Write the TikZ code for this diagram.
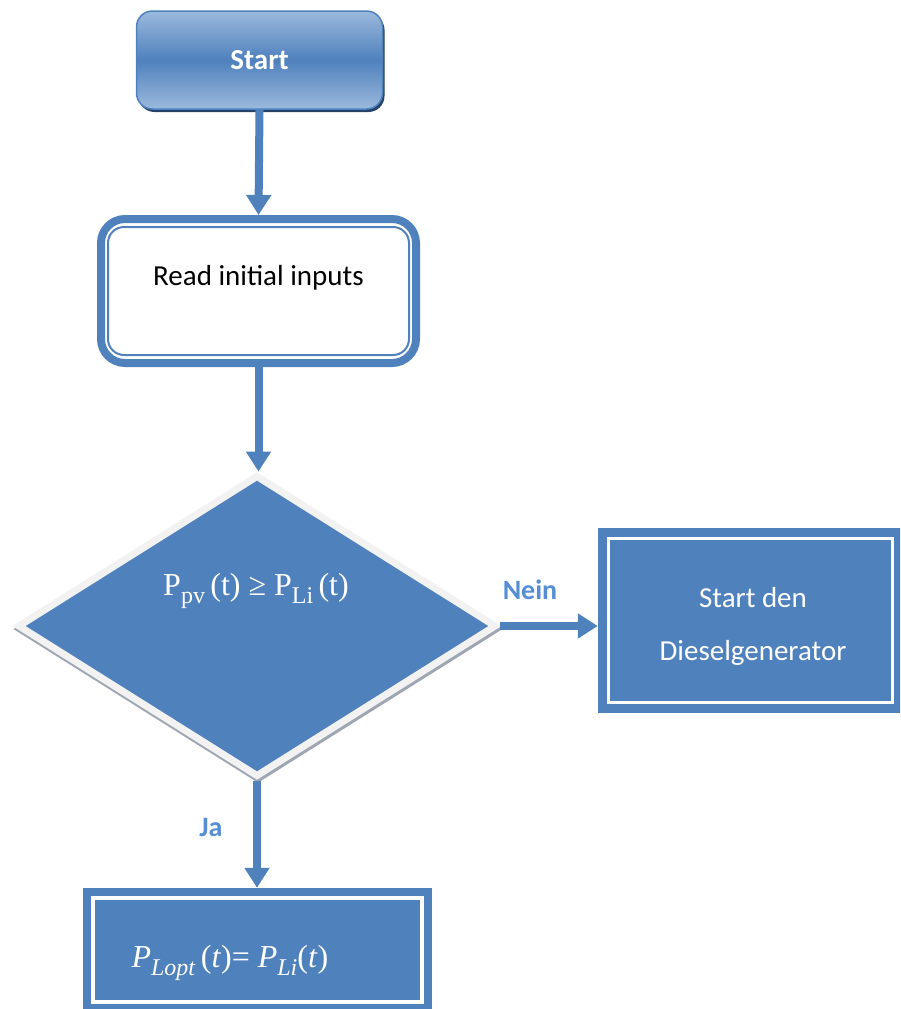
\documentclass[tikz,border=0pt]{standalone}
\usepackage{fontspec}
\setmainfont{Carlito}
\newfontfamily\mserif{Liberation Serif}
\usetikzlibrary{shapes.geometric,arrows.meta}
\definecolor{fcblue}{RGB}{79,129,189}
\definecolor{fclight}{RGB}{155,185,221}
\definecolor{fcdark}{RGB}{38,66,104}
\definecolor{fclabel}{RGB}{85,142,213}
\definecolor{fcgray}{RGB}{242,242,242}
\definecolor{fcshadow}{RGB}{158,166,178}
\newcommand\lowsub[1]{\raisebox{-0.25em}{\fontsize{24}{24}\selectfont #1}}
\begin{document}
\begin{tikzpicture}[x=1pt,y=-1pt,
  conn/.style={draw=fcblue, line width=8pt, -{Triangle[width=24pt,length=20pt]}},
  lbl/.style={text=fclabel, font=\fontsize{28}{34}\selectfont\bfseries},
  startbox/.style={rounded corners=16pt, draw=fcblue, line width=1.5pt,
    top color=fclight, bottom color=fclight, middle color=fcblue,
    minimum width=246pt, minimum height=98pt, text=white,
    font=\fontsize{29}{35}\selectfont\bfseries},
  startshadow/.style={rounded corners=16pt, fill=fcdark, minimum width=246pt, minimum height=98pt},
  readbox/.style={draw=fcblue, line width=8pt, fill=white, rounded corners=24pt,
    minimum width=315pt, minimum height=144pt},
  decbox/.style={diamond, inner sep=0pt, line width=7pt, minimum width=479pt, minimum height=302pt},
  bluebox/.style={fill=fcblue, inner sep=0pt},
  whiteline/.style={draw=white, line width=3.5pt},
  bodytext/.style={font=\fontsize{29}{53}\selectfont, align=center},
  mathtext/.style={font=\mserif\fontsize{32}{38}\selectfont, text=white}
]
\useasboundingbox (0,0) rectangle (900,1009);
\clip (0,0) rectangle (900,1009);

% Start
\node[startshadow] (sshadow) at (261.5,63) {};
\node[startbox] (start) at (259.5,60) {Start};

% Read initial inputs
\node[readbox] (read) at (258.5,291) {};
\draw[fcblue, line width=2pt, rounded corners=16pt]
  ([shift={(11,12)}]read.north west) rectangle ([shift={(-11,-12)}]read.south east);
\node[bodytext] (readtxt) at (258.5,278) {Read initial inputs};

% Decision
\node[decbox, fill=fcshadow, draw=fcshadow] (dshadow) at (258,629) {};
\node[decbox, fill=fcblue, draw=fcgray] (dec) at (257,626) {};
\node[mathtext] (dectxt) at (256,591)
  {P\lowsub{pv}\,(t) ≥ P\lowsub{Li}\,(t)};

% No branch
\node[bluebox, minimum width=305pt, minimum height=185pt] (dg) at (750.5,620.5) {};
\draw[whiteline] ([shift={(10.5,10.5)}]dg.north west) rectangle ([shift={(-10.5,-10.5)}]dg.south east);
\node[bodytext, text=white] (dgtxt) at (753,626) {Start den\\Dieselgenerator};

% Yes branch
\node[bluebox, minimum width=349pt, minimum height=124pt] (bot) at (257.5,950) {};
\draw[whiteline] ([shift={(10,10)}]bot.north west) rectangle ([shift={(-10,-10)}]bot.south east);
\node[mathtext, anchor=west] (bottxt) at (128,963)
  {\textit{P}\lowsub{\textit{Lopt}}\,(\textit{t})= \textit{P}\lowsub{\textit{Li}}(\textit{t})};

% Connectors
\draw[conn] (start.south) -- (read.north);
\draw[conn] (read.south) -- (read.south |- dec.north);
\draw[conn] (dec.east) -- (dec.east -| dg.west);
\draw[conn] (dec.south) -- (dec.south |- bot.north);

% Labels
\node[lbl] (nein) at (530,590) {Nein};
\node[lbl] (ja) at (211,828) {Ja};
\end{tikzpicture}
\end{document}
